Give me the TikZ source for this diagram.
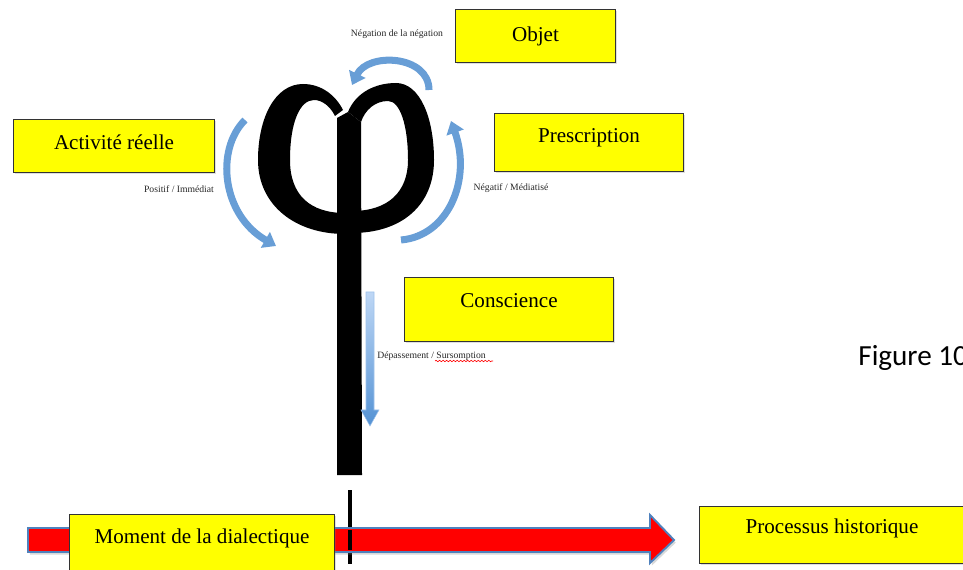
\documentclass[tikz,border=0pt]{standalone}
\usepackage{fontspec}
\setmainfont{Liberation Serif}
\newfontfamily\figfont{Carlito}
\usepackage{tikz}
\usetikzlibrary{arrows.meta}
\usetikzlibrary{decorations.pathmorphing}
\usetikzlibrary{shadows}
\definecolor{boxyellow}{RGB}{255,255,0}
\definecolor{arcblue}{RGB}{104,158,214}
\definecolor{lightblue}{RGB}{190,215,245}
\definecolor{deepblue}{RGB}{84,146,212}
\definecolor{edgeblue}{RGB}{79,129,189}
\tikzset{yellowbox/.style = {draw=black!80, fill=boxyellow, line width=0.6pt,
                             inner sep=0pt, anchor=north west,
                             font=\fontsize{12}{14}\selectfont,
                             drop shadow={shadow xshift=0.7pt, shadow yshift=-0.7pt, opacity=0.25}}}
\tikzset{smalllabel/.style = {inner sep=0pt, anchor=base, text=black!85,
                              font=\fontsize{5.5}{6.5}\selectfont}}
\tikzset{bluearc/.style = {arcblue, line width=4pt,
                           -{Triangle[width=10pt,length=7pt]}}}
\begin{document}
\begin{tikzpicture}[x=0.02cm, y=-0.02cm]
		\useasboundingbox (0,0) rectangle (963,570);
		\fill (258,160) .. controls (258,118) and (275,84) .. (303,84) .. controls (322,84) and (336,96) .. (343,110)
			-- (335,116) .. controls (330,106) and (322,100) .. (314,100) .. controls (300,100) and (290,122) .. (290,160)
			.. controls (290,195) and (310,213) .. (345,213) -- (345,234) .. controls (295,234) and (258,205) .. (258,160) -- cycle;
		\fill (348,112) .. controls (356,92) and (376,83) .. (396,83) .. controls (420,83) and (434,118) .. (434,160)
			.. controls (434,205) and (402,233) .. (352,233) -- (352,211) .. controls (388,211) and (408,192) .. (408,160)
			.. controls (408,125) and (400,101) .. (388,101) .. controls (375,101) and (365,110) .. (361,122) -- cycle;
		\fill (337,118) -- (348,112) -- (361,122) -- (362,475) -- (337,475) -- cycle;
		\coordinate (negS) at (429,90);
		\coordinate (negE) at (352,85);
		\coordinate (posS) at (245,120);
		\coordinate (posE) at (276,246);
		\coordinate (medS) at (401,240);
		\coordinate (medE) at (451,121);
		\draw [bluearc] (negS) .. controls (429,55) and (368,52) .. (negE);
		\draw [bluearc] (posS) .. controls (215,150) and (222,215) .. (posE);
		\draw [bluearc] (medS) .. controls (448,236) and (472,180) .. (medE);
		\shade [top color=lightblue, bottom color=deepblue, draw=lightblue!70!deepblue, line width=0.3pt]
			(366,292) -- (374,292) -- (374,410) -- (379,410) -- (370,426) -- (361,410) -- (366,410) -- cycle;
		\node [smalllabel] (neg) at (397,37) {Négation de la négation};
		\node [smalllabel] (pos) at (179,193) {Positif / Immédiat};
		\node [smalllabel] (med) at (511,191) {Négatif / Médiatisé};
		\node [smalllabel, anchor=base west] (depasse) at (377,359) {Dépassement / Sursomption};
		\draw [red, line width=0.35pt, decorate, decoration={snake, amplitude=0.4pt, segment length=2pt}]
			(435,361) -- (493,361);
		\node [yellowbox, minimum width=3.2cm, text height=0.64cm, text depth=0.42cm] (objet) at (455,9) {Objet};
		\node [yellowbox, minimum width=4.02cm, text height=0.60cm, text depth=0.46cm] (activite) at (13,119) {Activité réelle};
		\node [yellowbox, minimum width=3.78cm, text height=0.58cm, text depth=0.58cm] (prescription) at (494,113) {Prescription};
		\node [yellowbox, minimum width=4.18cm, text height=0.60cm, text depth=0.68cm] (conscience) at (404,277) {Conscience};
		\fill [black] (348,490) rectangle (352,564);
		\draw [fill=red, draw=edgeblue, line width=1.1pt, drop shadow={shadow xshift=1pt, shadow yshift=-1.5pt, opacity=0.3}]
			(28,528) -- (650,528) -- (650,515) -- (674,540) -- (650,563) -- (650,552) -- (28,552) -- cycle;
		\fill [black] (348,530) rectangle (352,550);
		\node [yellowbox, minimum width=5.3cm, text height=0.58cm, text depth=0.94cm] (moment) at (69,514) {Moment de la dialectique};
		\node [yellowbox, minimum width=5.3cm, text height=0.54cm, text depth=0.60cm] (processus) at (699,506) {Processus historique};
		\node [inner sep=0pt, anchor=base west, font=\figfont\fontsize{16.6}{20}\selectfont] (figure) at (858,366) {Figure 10};
	\end{tikzpicture}
\end{document}
